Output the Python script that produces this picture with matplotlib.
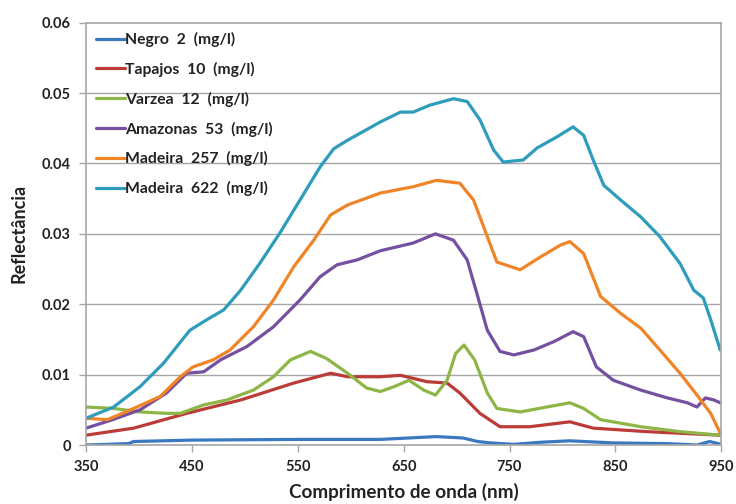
import matplotlib
matplotlib.use("Agg")
import matplotlib.pyplot as plt

# wavelengths (nm) and reflectance
negro_x = [350, 390, 395, 450, 550, 628, 681, 706, 720, 732, 754, 780, 807, 848, 900, 927, 939, 950]
negro_y = [0.0, 0.0002, 0.0005, 0.0007, 0.0008, 0.0008, 0.0012, 0.0010, 0.0005, 0.0003, 0.0001, 0.0004, 0.0006, 0.0003, 0.0002, 0.0, 0.0005, 0.0001]

tapajos_x = [350, 395, 445, 496, 546, 581, 597, 628, 647, 672, 691, 703, 722, 741, 769, 807, 829, 880, 949]
tapajos_y = [0.0014, 0.0024, 0.0045, 0.0064, 0.0088, 0.0102, 0.0097, 0.0097, 0.0099, 0.0090, 0.0088, 0.0074, 0.0045, 0.0026, 0.0026, 0.0033, 0.0024, 0.0019, 0.0014]

varzea_x = [350, 376, 401, 426, 439, 461, 483, 508, 527, 543, 562, 577, 597, 615, 628, 641, 655, 669, 680, 691, 699, 707, 717, 729, 738, 760, 785, 807, 820, 836, 874, 911, 949]
varzea_y = [0.0054, 0.0052, 0.0047, 0.0045, 0.0045, 0.0057, 0.0064, 0.0078, 0.0097, 0.0121, 0.0133, 0.0123, 0.0102, 0.0081, 0.0076, 0.0083, 0.0092, 0.0078, 0.0071, 0.0092, 0.0130, 0.0142, 0.0121, 0.0074, 0.0052, 0.0047, 0.0054, 0.0060, 0.0052, 0.0036, 0.0026, 0.0019, 0.0014]

amazonas_x = [350, 375, 401, 426, 445, 461, 477, 502, 527, 552, 571, 587, 606, 628, 659, 680, 697, 710, 719, 729, 741, 754, 773, 792, 810, 820, 832, 848, 874, 899, 918, 927, 935, 943, 949]
amazonas_y = [0.0024, 0.0036, 0.0050, 0.0074, 0.0102, 0.0104, 0.0121, 0.0140, 0.0168, 0.0206, 0.0239, 0.0256, 0.0263, 0.0276, 0.0287, 0.0300, 0.0291, 0.0263, 0.0216, 0.0163, 0.0133, 0.0128, 0.0135, 0.0147, 0.0161, 0.0154, 0.0111, 0.0092, 0.0078, 0.0067, 0.0060, 0.0054, 0.0067, 0.0064, 0.0060]

mad257_x = [350, 370, 395, 420, 439, 451, 470, 486, 508, 527, 546, 565, 581, 597, 628, 659, 681, 703, 716, 729, 738, 760, 779, 798, 807, 820, 836, 855, 874, 892, 911, 927, 940, 949]
mad257_y = [0.0038, 0.0036, 0.0052, 0.0069, 0.0097, 0.0111, 0.0121, 0.0135, 0.0168, 0.0206, 0.0253, 0.0291, 0.0327, 0.0341, 0.0358, 0.0367, 0.0376, 0.0372, 0.0348, 0.0296, 0.0260, 0.0249, 0.0267, 0.0284, 0.0289, 0.0272, 0.0211, 0.0187, 0.0166, 0.0135, 0.0102, 0.0071, 0.0045, 0.0017]

mad622_x = [350, 376, 401, 423, 448, 464, 480, 496, 514, 533, 552, 571, 584, 597, 628, 647, 659, 675, 697, 710, 722, 735, 744, 763, 776, 795, 810, 820, 829, 839, 855, 874, 892, 911, 924, 933, 940, 949]
mad622_y = [0.0038, 0.0054, 0.0083, 0.0116, 0.0163, 0.0178, 0.0192, 0.0220, 0.0258, 0.0301, 0.0348, 0.0395, 0.0421, 0.0433, 0.0459, 0.0473, 0.0473, 0.0483, 0.0492, 0.0488, 0.0462, 0.0419, 0.0402, 0.0405, 0.0422, 0.0438, 0.0452, 0.0440, 0.0405, 0.0369, 0.0348, 0.0324, 0.0296, 0.0258, 0.0220, 0.0209, 0.0178, 0.0135]

series = [
    ("Negro  2  (mg/l)", negro_x, negro_y, "#3A78C0"),
    ("Tapajos  10  (mg/l)", tapajos_x, tapajos_y, "#BB3B37"),
    ("Varzea  12  (mg/l)", varzea_x, varzea_y, "#8DB646"),
    ("Amazonas  53  (mg/l)", amazonas_x, amazonas_y, "#7550A0"),
    ("Madeira  257  (mg/l)", mad257_x, mad257_y, "#F08528"),
    ("Madeira  622  (mg/l)", mad622_x, mad622_y, "#2E9CBB"),
]

plt.rcParams['font.family'] = ['Lato', 'DejaVu Sans']
plt.rcParams['font.weight'] = 'bold'

fig = plt.figure(figsize=(7.36, 5.04), dpi=100)
ax = fig.add_axes([0.117, 0.117, 0.863, 0.838])

for name, xs, ys, c in series:
    ax.plot(xs, ys, color=c, lw=2.3, label=name, solid_capstyle='round', solid_joinstyle='round')

ax.set_xlim(350, 950)
ax.set_ylim(0, 0.06)
ax.set_xticks(range(350, 951, 100))
ax.set_yticks([0, 0.01, 0.02, 0.03, 0.04, 0.05, 0.06])
ax.set_yticklabels(['0', '0.01', '0.02', '0.03', '0.04', '0.05', '0.06'])
for y in [0.01, 0.02, 0.03, 0.04, 0.05]:
    ax.axhline(y, color='#A6A6A6', lw=1, zorder=0)

for s in ax.spines.values():
    s.set_color('#A6A6A6')
    s.set_linewidth(1.2)
ax.tick_params(axis='both', colors='#A6A6A6', labelcolor='#222222', labelsize=10.5, length=5, width=1, pad=6)
for lab in ax.get_xticklabels() + ax.get_yticklabels():
    lab.set_fontweight('bold')

ax.set_xlabel('Comprimento de onda (nm)', fontsize=13.6, fontweight='bold', color='#222222', labelpad=6)
ax.set_ylabel('Reflectância', fontsize=13, fontweight='bold', color='#222222', labelpad=10)

leg = ax.legend(loc='upper left', frameon=False, fontsize=11.3, handlelength=1.9, handletextpad=0.0,
                labelspacing=0.94, borderaxespad=0.2, bbox_to_anchor=(0.0, 1.0))
for t in leg.get_texts():
    t.set_fontweight('bold')
    t.set_color('#222222')

fig.savefig('out.png', dpi=100)
